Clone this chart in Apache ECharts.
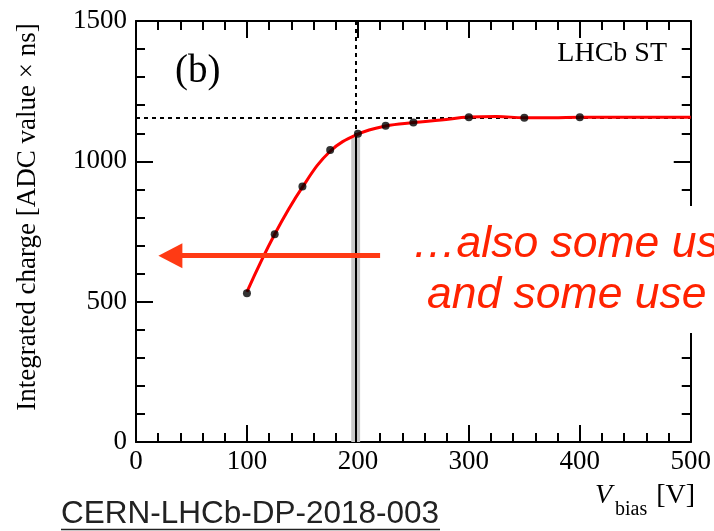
<!DOCTYPE html>
<html>
<head>
<meta charset="utf-8">
<script src="https://cdn.jsdelivr.net/npm/echarts@6/dist/echarts.min.js"></script>
<style>
  html, body { margin: 0; padding: 0; background: #fff; }
  #chart { width: 714px; height: 531px; }
</style>
</head>
<body>
<div id="chart"></div>
<script>
// measured points (V, ADC x ns)
var measVoltage = [100, 125, 150, 175, 200, 225, 250, 300, 350, 400];
var measCharge = [530, 740, 910, 1040, 1098, 1127, 1138, 1157, 1155, 1157];

// red fit curve
var fitVoltage = [100, 125, 150, 175, 200, 225, 250, 275, 300, 325, 350, 375, 400, 450, 500];
var fitCharge = [535, 740, 908, 1036, 1097, 1126, 1138, 1147, 1158, 1160, 1155, 1155, 1157, 1157, 1157];

// reference lines
var plateau = 1157;
var workVoltage = 198;
var band = [194, 202];

// overlay arrow (from/to in data units)
var arrowFrom = [220, 664];
var arrowTo = [31, 664];

var serif = '"Liberation Serif", "DejaVu Serif", serif';
var sans = '"Liberation Sans", Arial, sans-serif';

function zip(a, b) {
    return a.map(function (v, i) { return [v, b[i]]; });
}

var chart = echarts.init(document.getElementById('chart'));

function axis(pos, showLabel, max, interval) {
    return {
        type: 'value',
        position: pos,
        min: 0,
        max: max,
        interval: interval,
        axisLine: { show: true, onZero: false, lineStyle: { color: '#000', width: 2 } },
        axisTick: { show: true, inside: true, length: 17, lineStyle: { color: '#000', width: 2 } },
        minorTick: { show: true, splitNumber: 5, length: 9, lineStyle: { color: '#000', width: 2 } },
        splitLine: { show: false },
        axisLabel: {
            show: showLabel,
            color: '#000',
            fontFamily: serif,
            fontSize: 27,
            margin: (pos == 'left') ? 9 : 6,
            showMaxLabel: true,
            showMinLabel: true,
            formatter: function (v) { return String(v); }
        }
    };
}

var option = {
    animation: false,
    backgroundColor: '#fff',
    grid: { left: 136, right: 21, top: 21, bottom: 89 },
    xAxis: [axis('bottom', true, 500, 100), axis('top', false, 500, 100)],
    yAxis: [axis('left', true, 1500, 500), axis('right', false, 1500, 500)],
    series: [{
        name: 'fit',
        type: 'line',
        data: zip(fitVoltage, fitCharge),
        smooth: 0.4,
        symbol: 'none',
        z: 3,
        lineStyle: { color: '#ff0000', width: 3 },
        markArea: {
            silent: true,
            z: 1,
            itemStyle: { color: '#c8c8c8' },
            data: [[{ coord: [band[0], 0] }, { coord: [band[1], 1085] }]]
        },
        markLine: {
            silent: true,
            z: 2,
            symbol: 'none',
            label: { show: false },
            data: [
                [{ coord: [0, plateau], lineStyle: { type: [4, 4], color: '#000', width: 2 } }, { coord: [500, plateau] }],
                [{ coord: [workVoltage, 1500], lineStyle: { type: [4, 4], color: '#000', width: 2 } }, { coord: [workVoltage, 1095] }],
                [{ coord: [workVoltage, 1095], lineStyle: { type: 'solid', color: '#000', width: 2 } }, { coord: [workVoltage, 0] }]
            ]
        }
    }, {
        name: 'data',
        type: 'scatter',
        data: zip(measVoltage, measCharge),
        symbol: 'circle',
        symbolSize: 8,
        z: 4,
        itemStyle: { color: '#000' },
        markLine: {
            silent: true,
            z: 6,
            symbol: ['none', 'triangle'],
            symbolSize: [25, 24],
            label: { show: false },
            lineStyle: { type: 'solid', color: '#ff3a14', width: 5 },
            data: [[{ coord: arrowFrom }, { coord: arrowTo }]]
        }
    }],
    graphic: [
        { type: 'text', z: 100, x: 28, y: 217, rotation: Math.PI / 2,
          style: { text: 'Integrated charge [ADC value × ns]', fill: '#000', font: '27px ' + serif,
                   align: 'center', verticalAlign: 'middle' } },
        { type: 'text', z: 100, x: 175, y: 72,
          style: { text: '(b)', fill: '#000', font: '39px ' + serif, align: 'left', verticalAlign: 'middle' } },
        { type: 'text', z: 100, x: 667, y: 54,
          style: { text: 'LHCb ST', fill: '#000', font: '28px ' + serif, align: 'right', verticalAlign: 'middle' } },
        // x axis title: V_bias [V]
        { type: 'text', z: 100, x: 595, y: 496,
          style: { text: 'V', fill: '#000', font: 'italic 28px ' + serif, align: 'left', verticalAlign: 'middle' } },
        { type: 'text', z: 100, x: 615, y: 510,
          style: { text: 'bias', fill: '#000', font: '20px ' + serif, align: 'left', verticalAlign: 'middle' } },
        { type: 'text', z: 100, x: 695, y: 496,
          style: { text: '[V]', fill: '#000', font: '28px ' + serif, align: 'right', verticalAlign: 'middle' } },
        // reference note
        { type: 'text', z: 100, x: 61, y: 514,
          style: { text: 'CERN-LHCb-DP-2018-003', fill: '#222', font: '31.5px ' + sans, align: 'left', verticalAlign: 'middle' } },
        { type: 'line', z: 100, shape: { x1: 61, y1: 529.5, x2: 440, y2: 529.5 }, style: { stroke: '#222', lineWidth: 1.5 } },
        // overlay text on white box
        { type: 'rect', z: 100, shape: { x: 396, y: 206, width: 318, height: 127 }, style: { fill: '#fff' } },
        { type: 'text', z: 101, x: 412, y: 245,
          style: { text: '…also some us', fill: '#ff2200', font: 'italic 44.5px ' + sans, align: 'left', verticalAlign: 'middle' } },
        { type: 'text', z: 101, x: 427, y: 296,
          style: { text: 'and some use', fill: '#ff2200', font: 'italic 44.5px ' + sans, align: 'left', verticalAlign: 'middle' } }
    ]
};
chart.setOption(option);
</script>
</body>
</html>
